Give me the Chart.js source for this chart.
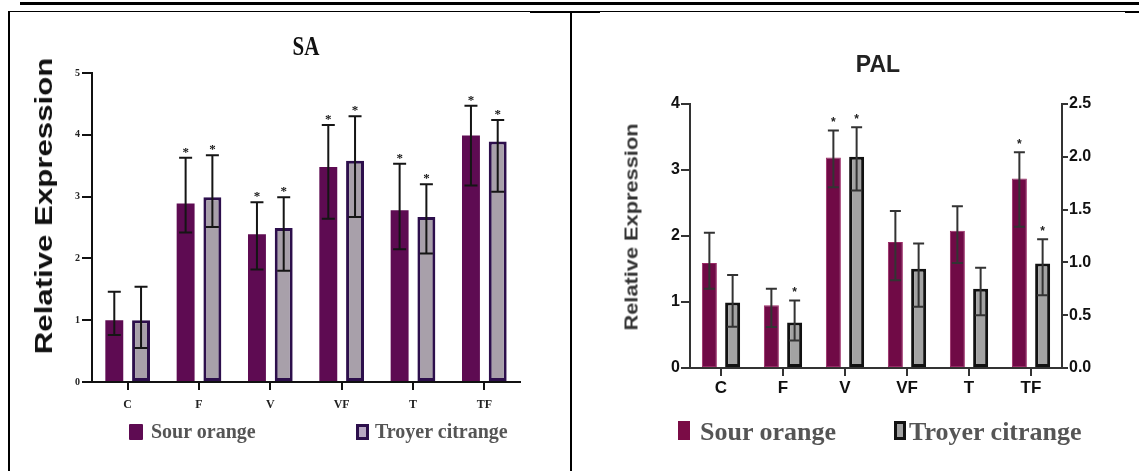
<!DOCTYPE html>
<html><head><meta charset="utf-8">
<script src="https://cdn.jsdelivr.net/npm/chart.js@4.4.1/dist/chart.umd.min.js"></script>
<style>
html,body{margin:0;padding:0;background:#fff;}
body{width:1139px;height:471px;position:relative;overflow:hidden;}
.ln{position:absolute;background:#000;}
.t{position:absolute;white-space:nowrap;line-height:1;}
.sw{position:absolute;box-sizing:border-box;}
</style></head><body>
<div class="ln" style="left:20px;top:2px;width:1119px;height:3px"></div>
<div class="ln" style="left:9px;top:11px;width:1130px;height:1px"></div>
<div class="ln" style="left:530px;top:11px;width:70px;height:2px"></div>
<div class="ln" style="left:1125px;top:11px;width:14px;height:2px"></div>
<div class="ln" style="left:8px;top:11px;width:2px;height:460px"></div>
<div class="ln" style="left:570px;top:11px;width:2px;height:460px"></div>

<canvas id="sa" width="560" height="457" style="position:absolute;left:10px;top:14px"></canvas>
<canvas id="pal" width="565" height="457" style="position:absolute;left:574px;top:14px"></canvas>

<div class="t" id="saTitle" style="left:306px;top:46px;transform:translate(-50%,-50%) scaleY(1.33);font:bold 21px 'Liberation Serif';color:#111">SA</div>
<div class="t" id="saYTitle" style="left:44px;top:206px;transform:translate(-50%,-50%) rotate(-90deg) scaleX(1.3);font:bold 24px 'Liberation Sans';color:#111">Relative Expression</div>
<div class="t" id="palTitle" style="left:878px;top:64px;transform:translate(-50%,-50%);font:bold 23px 'Liberation Sans';color:#222">PAL</div>
<div class="t" id="palYTitle" style="left:632px;top:227px;transform:translate(-50%,-50%) rotate(-90deg) scaleX(1.21);font:bold 18px 'Liberation Sans';color:#333">Relative Expression</div>

<div class="sw" style="left:129px;top:424px;width:14px;height:16px;background:#5e0b52;border-radius:1px"></div>
<div class="t lg1" style="left:151px;top:420px;font:bold 20px 'Liberation Serif';color:#555"></div>
<div class="sw" style="left:356px;top:424px;width:13px;height:16px;background:#b9a9c4;border:3px solid #2d0f4c"></div>
<div class="t lg2" style="left:375px;top:420px;font:bold 20px 'Liberation Serif';color:#555"></div>

<div class="sw" style="left:678px;top:421px;width:12px;height:19px;background:#7a0c46"></div>
<div class="t lg1" style="left:700px;top:417px;font:bold 26px 'Liberation Serif';color:#555"></div>
<div class="sw" style="left:894px;top:421px;width:12px;height:19px;background:#a0a0a0;border:3px solid #111"></div>
<div class="t lg2" style="left:909px;top:417px;font:bold 26px 'Liberation Serif';color:#555"></div>

<script>
// ---------- data ----------
const categories = ['C', 'F', 'V', 'VF', 'T', 'TF'];
const seriesNames = ['Sour orange', 'Troyer citrange'];

// SA panel
const saSour       = [1.00, 2.89, 2.39, 3.48, 2.78, 3.99];
const saTroyer     = [1.00, 2.99, 2.49, 3.58, 2.67, 3.89];
const saSourHigh   = [1.46, 3.63, 2.91, 4.16, 3.53, 4.47];
const saSourLow    = [0.76, 2.42, 1.82, 2.64, 2.15, 3.18];
const saTroyerHigh = [1.54, 3.67, 2.99, 4.30, 3.20, 4.24];
const saTroyerLow  = [0.55, 2.51, 1.80, 2.67, 2.08, 3.08];
const saSourSig    = [0, 1, 1, 1, 1, 1];
const saTroyerSig  = [0, 1, 1, 1, 1, 1];
const saTicks      = [0, 1, 2, 3, 4, 5];

// PAL panel (Sour orange on left axis, Troyer citrange on right axis)
const palSour       = [1.59, 0.95, 3.19, 1.91, 2.08, 2.87];
const palTroyer     = [0.62, 0.43, 2.00, 0.94, 0.75, 0.99];
const palSourHigh   = [2.05, 1.20, 3.60, 2.38, 2.45, 3.27];
const palSourLow    = [1.20, 0.62, 2.74, 1.33, 1.59, 2.14];
const palTroyerHigh = [0.88, 0.64, 2.28, 1.18, 0.95, 1.22];
const palTroyerLow  = [0.39, 0.26, 1.68, 0.58, 0.50, 0.69];
const palSourSig    = [0, 0, 1, 0, 0, 1];
const palTroyerSig  = [0, 1, 1, 0, 0, 1];
const palLeftTicks  = [0, 1, 2, 3, 4];
const palRightTicks = [0, 0.5, 1, 1.5, 2, 2.5];

document.querySelectorAll('.lg1').forEach(e => e.textContent = seriesNames[0]);
document.querySelectorAll('.lg2').forEach(e => e.textContent = seriesNames[1]);

function errorBars(id, highs, lows, sigs, st) {
  return {
    id,
    afterDatasetsDraw(chart) {
      const ctx = chart.ctx;
      chart.data.datasets.forEach((ds, i) => {
        const meta = chart.getDatasetMeta(i);
        const scale = chart.scales[meta.yAxisID];
        meta.data.forEach((bar, j) => {
          const x = bar.x;
          const yh = scale.getPixelForValue(highs[i][j]);
          const yl = scale.getPixelForValue(lows[i][j]);
          ctx.save();
          ctx.strokeStyle = st.color;
          ctx.lineWidth = st.width;
          ctx.beginPath();
          ctx.moveTo(x, yh); ctx.lineTo(x, yl);
          ctx.moveTo(x - st.cap / 2, yh); ctx.lineTo(x + st.cap / 2, yh);
          ctx.moveTo(x - st.cap / 2, yl); ctx.lineTo(x + st.cap / 2, yl);
          ctx.stroke();
          if (sigs[i][j]) {
            ctx.fillStyle = st.starColor;
            ctx.font = st.starFont;
            ctx.textAlign = 'center';
            ctx.textBaseline = 'alphabetic';
            ctx.fillText('*', x, yh - st.starGap);
          }
          ctx.restore();
        });
      });
    }
  };
}

const common = {
  responsive: false, animation: false, devicePixelRatio: 1,
  plugins: { legend: { display: false }, title: { display: false }, tooltip: { enabled: false } }
};

// ---------- SA ----------
new Chart(document.getElementById('sa'), {
  type: 'bar',
  data: {
    labels: categories,
    datasets: [
      { label: seriesNames[0], data: saSour, backgroundColor: '#5e0b52', borderWidth: 0,
        categoryPercentage: 0.75, barPercentage: 0.67 },
      { label: seriesNames[1], data: saTroyer, backgroundColor: '#a8a0aa', borderColor: '#2d0f4c',
        borderWidth: 3, borderSkipped: false, categoryPercentage: 0.75, barPercentage: 0.67 }
    ]
  },
  options: Object.assign({}, common, {
    layout: { padding: { left: 0, right: 50, top: 59, bottom: 49 } },
    scales: {
      x: {
        offset: true,
        grid: { offset: false, drawOnChartArea: false, drawTicks: true, tickLength: 8, color: '#111', lineWidth: 2 },
        border: { display: true, color: '#111', width: 2 },
        ticks: { font: { family: 'Liberation Serif', weight: 'bold', size: 12 }, color: '#222', padding: 8, maxRotation: 0 },
        afterFit: s => { s.height = 40; }
      },
      y: {
        min: 0, max: 5,
        afterBuildTicks: s => { s.ticks = saTicks.map(v => ({ value: v })); },
        grid: { drawOnChartArea: false, drawTicks: true, tickLength: 10, color: '#111', lineWidth: 2 },
        border: { display: true, color: '#111', width: 2 },
        ticks: { font: { family: 'Liberation Serif', weight: 'bold', size: 10 }, color: '#222', padding: 2 },
        afterFit: s => { s.width = 82; }
      }
    }
  }),
  plugins: [errorBars('saErr', [saSourHigh, saTroyerHigh], [saSourLow, saTroyerLow], [saSourSig, saTroyerSig],
    { color: '#151515', width: 2, cap: 13, starColor: '#151515', starFont: "bold 13px 'Liberation Serif'", starGap: 2 })]
});

// ---------- PAL ----------
new Chart(document.getElementById('pal'), {
  type: 'bar',
  data: {
    labels: categories,
    datasets: [
      { label: seriesNames[0], data: palSour, yAxisID: 'y', backgroundColor: '#700a46', borderColor: '#9a2a66',
        borderWidth: 1, borderSkipped: false, categoryPercentage: 0.75, barPercentage: 0.645 },
      { label: seriesNames[1], data: palTroyer, yAxisID: 'y1', backgroundColor: '#a3a3a3', borderColor: '#111',
        borderWidth: 3, borderSkipped: false, categoryPercentage: 0.75, barPercentage: 0.645 }
    ]
  },
  options: Object.assign({}, common, {
    layout: { padding: { left: 0, right: 37, top: 90, bottom: 63 } },
    scales: {
      x: {
        offset: true,
        grid: { offset: false, drawOnChartArea: false, drawTicks: true, tickLength: 8, color: '#333', lineWidth: 2 },
        border: { display: true, color: '#333', width: 2 },
        ticks: { font: { family: 'Liberation Sans', weight: 'bold', size: 17 }, color: '#111', padding: 2, maxRotation: 0 },
        afterFit: s => { s.height = 40; }
      },
      y: {
        position: 'left', min: 0, max: 4,
        afterBuildTicks: s => { s.ticks = palLeftTicks.map(v => ({ value: v })); },
        grid: { drawOnChartArea: false, drawTicks: true, tickLength: 9, color: '#333', lineWidth: 2 },
        border: { display: true, color: '#333', width: 2 },
        ticks: { font: { family: 'Liberation Sans', weight: 'bold', size: 16 }, color: '#111', padding: 1 },
        afterFit: s => { s.width = 116; }
      },
      y1: {
        position: 'right', min: 0, max: 2.5,
        afterBuildTicks: s => { s.ticks = palRightTicks.map(v => ({ value: v })); },
        grid: { drawOnChartArea: false, drawTicks: true, tickLength: 6, color: '#333', lineWidth: 2 },
        border: { display: true, color: '#333', width: 2 },
        ticks: { font: { family: 'Liberation Sans', weight: 'bold', size: 16 }, color: '#111', padding: 1,
                 callback: v => Number(v).toFixed(1) },
        afterFit: s => { s.width = 40; }
      }
    }
  }),
  plugins: [errorBars('palErr', [palSourHigh, palTroyerHigh], [palSourLow, palTroyerLow], [palSourSig, palTroyerSig],
    { color: '#333', width: 2, cap: 11, starColor: '#222', starFont: "bold 12px 'Liberation Sans'", starGap: 4 })]
});
</script>
</body></html>
